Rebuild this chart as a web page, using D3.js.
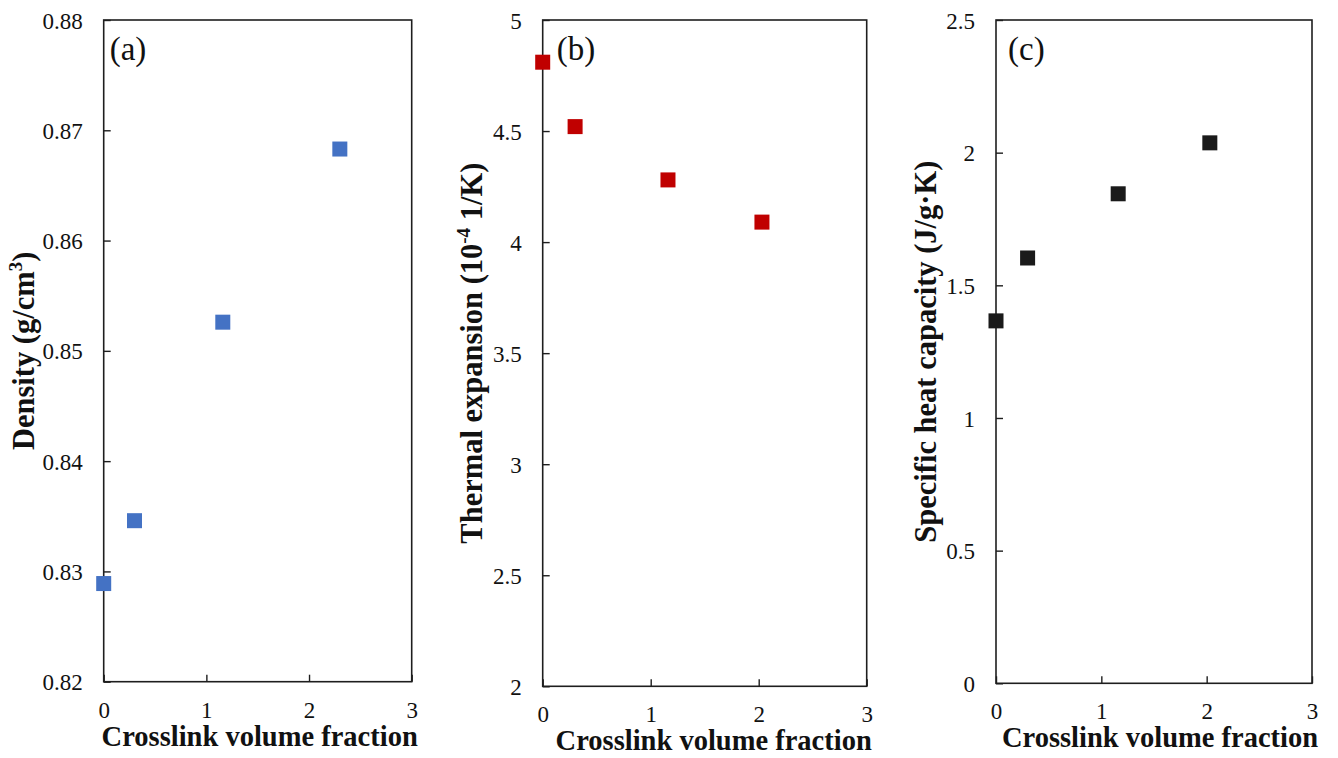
<!DOCTYPE html>
<html>
<head>
<meta charset="utf-8">
<script src="https://cdn.jsdelivr.net/npm/d3@7"></script>
<style>
  html, body { margin: 0; padding: 0; background: #fff; }
  svg { display: block; }
  svg text { font-family: "Liberation Serif", "Times New Roman", serif !important; fill: #111; }
</style>
</head>
<body>
<svg id="chart" width="1338" height="758"></svg>
<script>
// ---- Data ----
const xTickValues = [0, 1, 2, 3];
const xTickLabels = ["0", "1", "2", "3"];

const densityX = [0, 0.3, 1.16, 2.3];
const densityY = [0.8289, 0.8346, 0.8526, 0.8683];
const densityTicks = [0.82, 0.83, 0.84, 0.85, 0.86, 0.87, 0.88];
const densityTickLabels = ["0.82", "0.83", "0.84", "0.85", "0.86", "0.87", "0.88"];

const expansionX = [0, 0.3, 1.16, 2.03];
const expansionY = [4.81, 4.52, 4.28, 4.09];
const expansionTicks = [2, 2.5, 3, 3.5, 4, 4.5, 5];
const expansionTickLabels = ["2", "2.5", "3", "3.5", "4", "4.5", "5"];

const heatX = [0, 0.3, 1.16, 2.03];
const heatY = [1.366, 1.603, 1.845, 2.037];
const heatTicks = [0, 0.5, 1, 1.5, 2, 2.5];
const heatTickLabels = ["0", "0.5", "1", "1.5", "2", "2.5"];

const xTitle = "Crosslink volume fraction";

// ---- Layout ----
const svg = d3.select("#chart");
const SERIF = "'Liberation Serif', 'Times New Roman', serif";

const panels = [
  { left: 103.7, right: 411.7, top: 20, bottom: 681.7, xs: densityX, ys: densityY,
    ticks: densityTicks, labels: densityTickLabels, color: "#4472C4", tag: "(a)", tagDx: 6,
    titleX: 34, titleOff: 2,
    title: [["Density (g/cm", 0], ["3", 1], [")", 2]] },
  { left: 542.7, right: 866.7, top: 20, bottom: 686.3, xs: expansionX, ys: expansionY,
    ticks: expansionTicks, labels: expansionTickLabels, color: "#C00000", tag: "(b)", tagDx: 14,
    titleX: 482, titleOff: 9,
    title: [["Thermal expansion (10", 0], ["-4", 1], [" 1/K)", 2]] },
  { left: 996, right: 1312, top: 20, bottom: 683.3, xs: heatX, ys: heatY,
    ticks: heatTicks, labels: heatTickLabels, color: "#1a1a1a", tag: "(c)", tagDx: 12,
    titleX: 936, titleOff: 6,
    title: [["Specific heat capacity (J/g·K)", 0]] }
];

panels.forEach(p => {
  const g = svg.append("g").style("font-family", SERIF);
  const x = d3.scaleLinear().domain([0, 3]).range([p.left, p.right]);
  const y = d3.scaleLinear().domain([p.ticks[0], p.ticks[p.ticks.length - 1]]).range([p.bottom, p.top]);

  // frame
  g.append("rect")
    .attr("x", p.left).attr("y", p.top)
    .attr("width", p.right - p.left).attr("height", p.bottom - p.top)
    .attr("fill", "none").attr("stroke", "#1e1e1e").attr("stroke-width", 1.6);

  // x ticks (inside)
  const xAxis = d3.axisBottom(x).tickValues(xTickValues)
    .tickSizeInner(-7).tickSizeOuter(0)
    .tickFormat((d, i) => xTickLabels[i]);
  const gx = g.append("g").attr("transform", `translate(0,${p.bottom})`).call(xAxis)
    .attr("font-family", null);
  gx.select(".domain").remove();
  gx.selectAll(".tick line").attr("stroke", "#1e1e1e").attr("stroke-width", 1.4);
  gx.selectAll(".tick text")
    .style("font-family", SERIF).style("font-size", "23px")
    .attr("fill", "#111").attr("y", 36).attr("dy", 0);

  // y ticks (inside)
  const yAxis = d3.axisLeft(y).tickValues(p.ticks)
    .tickSizeInner(-7).tickSizeOuter(0)
    .tickFormat((d, i) => p.labels[i]);
  const gy = g.append("g").attr("transform", `translate(${p.left},0)`).call(yAxis)
    .attr("font-family", null);
  gy.select(".domain").remove();
  gy.selectAll(".tick line").attr("stroke", "#1e1e1e").attr("stroke-width", 1.4);
  gy.selectAll(".tick text")
    .style("font-family", SERIF).style("font-size", "23px")
    .attr("fill", "#111").attr("x", -21).attr("dy", "0.35em");

  // markers
  const data = p.xs.map((v, i) => ({ x: v, y: p.ys[i] }));
  const s = 15;
  g.selectAll("rect.pt").data(data).enter().append("rect")
    .attr("class", "pt")
    .attr("x", d => x(d.x) - s / 2).attr("y", d => y(d.y) - s / 2)
    .attr("width", s).attr("height", s)
    .attr("fill", p.color);

  // panel tag
  g.append("text")
    .attr("x", p.left + p.tagDx).attr("y", 60)
    .style("font-size", "33px").text(p.tag);

  // x title
  g.append("text")
    .attr("x", (p.left + p.right) / 2 + p.titleOff).attr("y", p.bottom + 64)
    .attr("text-anchor", "middle").style("font-size", "28.5px").attr("font-weight", "bold")
    .text(xTitle);

  // y title
  const cy = (p.top + p.bottom) / 2;
  const yt = g.append("text")
    .attr("transform", `translate(${p.titleX},${cy}) rotate(-90)`)
    .attr("text-anchor", "middle").style("font-size", "30.5px").attr("font-weight", "bold");
  p.title.forEach(([t, kind]) => {
    const ts = yt.append("tspan").text(t);
    if (kind === 1) ts.style("font-size", "19px").attr("dy", -12);
    if (kind === 2) ts.attr("dy", 12);
  });
});
</script>
</body>
</html>
